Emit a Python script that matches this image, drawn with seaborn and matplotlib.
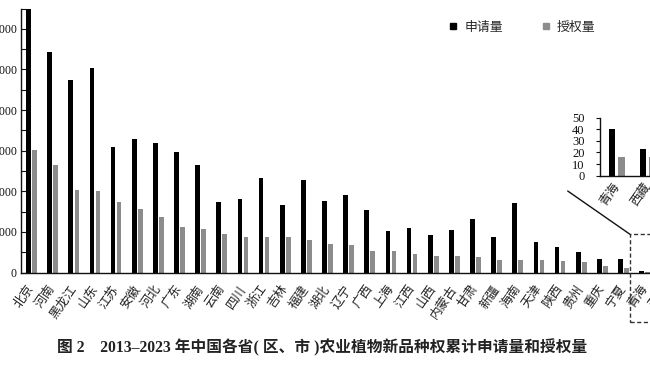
import matplotlib
matplotlib.use('Agg')
import matplotlib.pyplot as plt
import seaborn as sns
import pandas as pd
from matplotlib.lines import Line2D
from matplotlib.patches import Rectangle
from matplotlib.ticker import MultipleLocator, FuncFormatter

# ---------------- data ----------------
provinces = ['北京', '河南', '黑龙江', '山东', '江苏', '安徽', '河北', '广东', '湖南', '云南',
             '四川', '浙江', '吉林', '福建', '湖北', '辽宁', '广西', '上海', '江西', '山西',
             '内蒙古', '甘肃', '新疆', '海南', '天津', '陕西', '贵州', '重庆', '宁夏', '青海', '西藏']
applications = [6480, 5430, 4750, 5030, 3100, 3290, 3180, 2970, 2650, 1730,
                1800, 2330, 1670, 2280, 1760, 1910, 1530, 1020, 1100, 930,
                1050, 1320, 870, 1700, 760, 630, 500, 340, 340, 40, 23]
grants = [3010, 2635, 2030, 1995, 1734, 1562, 1372, 1118, 1069, 946,
          879, 879, 862, 805, 707, 682, 534, 527, 465, 411,
          404, 387, 320, 305, 305, 271, 256, 172, 99, 16, 16]
inset_provinces = ['青海', '西藏']
inset_applications = [40, 23]
inset_grants = [16, 16]
series_names = ['申请量', '授权量']
series_colors = ['#000000', '#8c8c8c']
caption = '图 2　2013–2023 年中国各省( 区、市 )农业植物新品种权累计申请量和授权量'

# ---------------- style ----------------
sns.set_theme(style='white')
plt.rcParams['font.family'] = ['Liberation Serif', 'Noto Sans CJK SC', 'DejaVu Sans']
CJK = ['Noto Sans CJK SC', 'DejaVu Sans']

W, H = 650, 366
fig = plt.figure(figsize=(W / 100, H / 100), dpi=100)

n = len(provinces)
df = pd.DataFrame({
    '省份': provinces * 2,
    '数量': applications + grants,
    '类型': [series_names[0]] * n + [series_names[1]] * n,
})

# ---------------- main axes ----------------
ax = fig.add_axes([21 / W, 1 - 272.5 / H, 655.3 / W, (272.5 - 8.5) / H])
sns.barplot(data=df, x='省份', y='数量', hue='类型', order=provinces, hue_order=series_names,
            palette=series_colors, saturation=1, width=0.57, gap=0.22,
            edgecolor='none', linewidth=0, legend=False, ax=ax)
ax.set_xlim(-0.5, n - 0.5)
ax.set_ylim(0, 6500)
ax.set_xlabel('')
ax.set_ylabel('')
for s in ['top', 'right']:
    ax.spines[s].set_visible(False)
for s in ['left', 'bottom']:
    ax.spines[s].set_color('#111111')
    ax.spines[s].set_linewidth(1.0)
ax.yaxis.set_major_locator(MultipleLocator(1000))
ax.yaxis.set_minor_locator(MultipleLocator(500))
ax.yaxis.set_major_formatter(FuncFormatter(lambda v, p: f'{int(v):,}'.replace(',', ' ')))
ax.tick_params(axis='y', which='both', direction='in', left=True, width=0.8, color='#111111')
ax.tick_params(axis='y', which='major', length=4, labelsize=8.5, pad=3, labelcolor='#111111')
ax.tick_params(axis='y', which='minor', length=3.5)
ax.set_xticks(range(n))
ax.set_xticklabels(provinces, rotation=55, ha='right', va='center', rotation_mode='anchor',
                   family=CJK, fontsize=9, color='#222222')
ax.tick_params(axis='x', length=0, pad=10)

# ---------------- inset axes ----------------
ax2 = fig.add_axes([600 / W, 1 - 175.7 / H, 63.5 / W, 58 / H])
dfi = pd.DataFrame({
    '省份': inset_provinces * 2,
    '数量': inset_applications + inset_grants,
    '类型': [series_names[0]] * 2 + [series_names[1]] * 2,
})
sns.barplot(data=dfi, x='省份', y='数量', hue='类型', order=inset_provinces, hue_order=series_names,
            palette=series_colors, saturation=1, width=0.61, gap=0.31,
            edgecolor='none', linewidth=0, legend=False, ax=ax2)
ax2.set_xlim(-0.54, 1.51)
ax2.set_ylim(0, 50)
ax2.set_xlabel('')
ax2.set_ylabel('')
ax2.set_facecolor('none')
for s in ['top', 'right']:
    ax2.spines[s].set_visible(False)
for s in ['left', 'bottom']:
    ax2.spines[s].set_color('#111111')
    ax2.spines[s].set_linewidth(1.0)
ax2.yaxis.set_major_locator(MultipleLocator(10))
ax2.tick_params(axis='y', direction='out', left=True, length=3, width=0.8, labelsize=9,
                pad=8, color='#111111', labelcolor='#111111')
ax2.set_xticks(range(len(inset_provinces)))
ax2.set_xticklabels(inset_provinces, rotation=55, ha='right', va='center', rotation_mode='anchor',
                    family=CJK, fontsize=9, color='#222222')
ax2.tick_params(axis='x', length=0, pad=6)

# ---------------- legend ----------------
handles = [Line2D([], [], marker='s', ls='', color=c, markersize=4.2) for c in series_colors]
fig.legend(handles, series_names, loc='center left', bbox_to_anchor=(448.6 / W, 1 - 27 / H),
           ncol=2, frameon=False, handlelength=0.7, handletextpad=0.5, columnspacing=3.0,
           borderpad=0, borderaxespad=0, prop={'family': CJK, 'size': 9.3})

# ---------------- zoom connector and dashed box ----------------
fig.add_artist(Line2D([567.7 / W, 630 / W], [1 - 191 / H, 1 - 234.3 / H],
                      transform=fig.transFigure, color='#111111', lw=1.0))
fig.add_artist(Rectangle((630 / W, 1 - 321.7 / H), 40 / W, (321.7 - 234.3) / H,
                         transform=fig.transFigure, fill=False, edgecolor='#333333',
                         lw=1.0, ls=(0, (3, 1.8))))

# ---------------- caption ----------------
fig.text(322.5 / W, 1 - 348 / H, caption, ha='center', va='center', fontsize=11.3,
         fontweight='bold', family=['Liberation Serif', 'Noto Sans CJK SC', 'DejaVu Sans'],
         color='#222222')

fig.savefig('out.png', dpi=100)
